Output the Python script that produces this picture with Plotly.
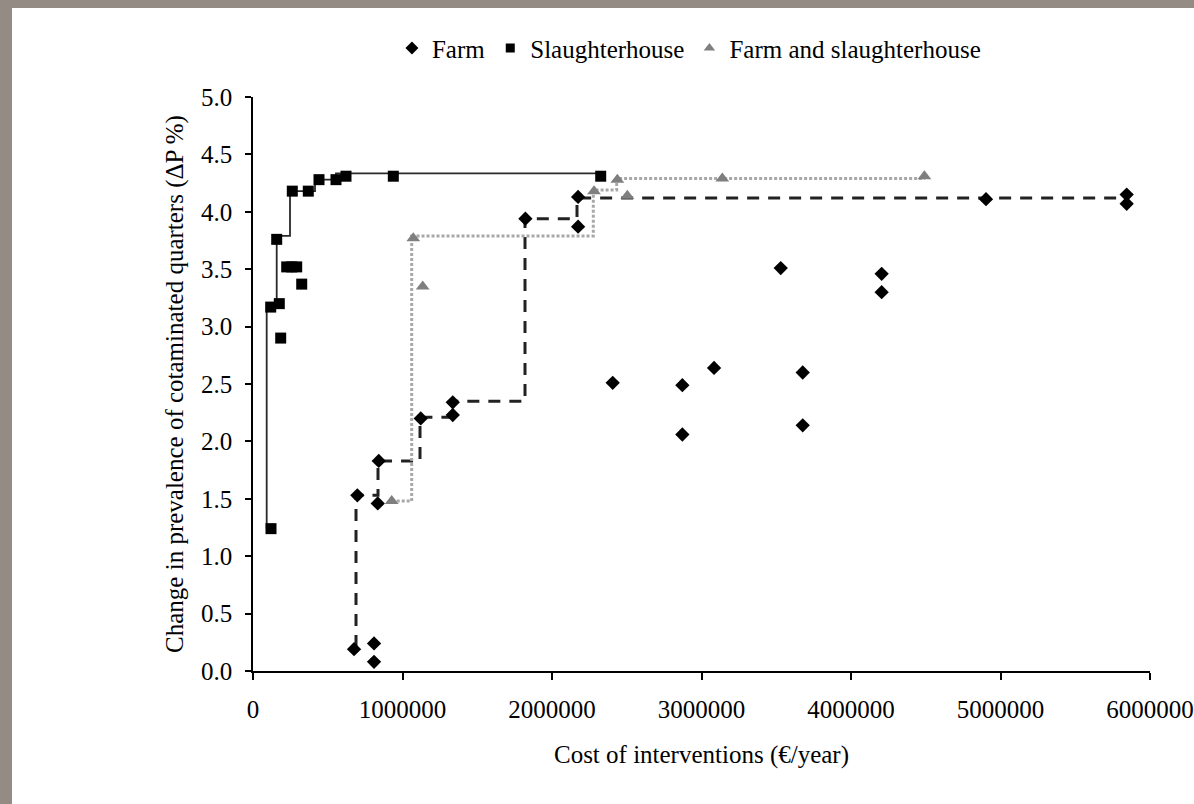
import plotly.graph_objects as go

# ---------------- data ----------------
farm_cost = [675800, 809600, 809600, 697900, 834400, 841100, 1122100, 1336200, 1336200,
             1822000, 2174600, 2174600, 2406000, 2872000, 2872000, 3084000, 3530000,
             3677000, 3677000, 4205000, 4205000, 4903000, 5844000, 5844000]
farm_effect = [0.19, 0.24, 0.08, 1.53, 1.46, 1.83, 2.20, 2.23, 2.34,
               3.94, 4.13, 3.87, 2.51, 2.49, 2.06, 2.64, 3.51,
               2.60, 2.14, 3.46, 3.30, 4.11, 4.15, 4.07]

slaughter_cost = [120400, 118400, 175900, 185300, 225400, 258900, 292300, 325800,
                  158500, 262900, 369900, 441500, 555200, 622100, 938500, 2325800]
slaughter_effect = [1.24, 3.17, 3.20, 2.90, 3.52, 3.52, 3.52, 3.37,
                    3.76, 4.18, 4.18, 4.28, 4.28, 4.31, 4.31, 4.31]

both_cost = [927800, 1072200, 1135100, 2281000, 2437000, 2504000, 3139000, 4491000]
both_effect = [1.48, 3.77, 3.35, 4.18, 4.28, 4.14, 4.29, 4.31]

# efficiency frontiers (corner points of the step lines)
farm_front_cost = [689000, 836100, 1117100, 1335800, 1819400, 2167200, 5846200]
farm_front_effect = [0.21, 1.53, 1.83, 2.21, 2.35, 3.94, 4.12]

slaughter_front_cost = [91600, 158500, 247500, 414700, 555000, 582000, 2325800]
slaughter_front_effect = [1.24, 3.17, 3.79, 4.18, 4.28, 4.335, 4.335]

both_front_cost = [927800, 1061500, 2276300, 2432800, 4495000]
both_front_effect = [1.48, 3.79, 4.19, 4.29, 4.29]

x_ticks = [0, 1000000, 2000000, 3000000, 4000000, 5000000, 6000000]
y_ticks = [0.0, 0.5, 1.0, 1.5, 2.0, 2.5, 3.0, 3.5, 4.0, 4.5, 5.0]

FONT = "Liberation Serif, Times New Roman, serif"
FS = 25
W, H = 1194, 804
L, R, T, B = 253, 44, 97, 133
PW, PH = W - L - R, H - T - B

fig = go.Figure()

# frontier lines
fig.add_trace(go.Scatter(x=slaughter_front_cost, y=slaughter_front_effect, mode="lines",
                         line=dict(color="#2a2a2a", width=1.8, shape="vh"),
                         showlegend=False, hoverinfo="skip"))
fig.add_trace(go.Scatter(x=farm_front_cost, y=farm_front_effect, mode="lines",
                         line=dict(color="#222222", width=3, dash="12px,9px", shape="vh"),
                         showlegend=False, hoverinfo="skip"))
fig.add_trace(go.Scatter(x=both_front_cost, y=both_front_effect, mode="lines",
                         line=dict(color="#a8a8a8", width=3, dash="3px,2px", shape="hv"),
                         showlegend=False, hoverinfo="skip"))

# markers
fig.add_trace(go.Scatter(x=farm_cost, y=farm_effect, mode="markers", name="Farm",
                         legendgroup="farm", showlegend=False,
                         marker=dict(symbol="diamond", size=11, color="black")))
fig.add_trace(go.Scatter(x=slaughter_cost, y=slaughter_effect, mode="markers", name="Slaughterhouse",
                         legendgroup="sl", showlegend=False,
                         marker=dict(symbol="square", size=11, color="black")))
fig.add_trace(go.Scatter(x=both_cost, y=both_effect, mode="markers", name="Farm and slaughterhouse",
                         legendgroup="both", showlegend=False,
                         marker=dict(symbol="triangle-up", size=12, color="#7f7f7f")))

# legend entries (small symbols, as in the reference)
fig.add_trace(go.Scatter(x=[None], y=[None], mode="markers", name="Farm", legendgroup="farm",
                         marker=dict(symbol="diamond", size=10, color="black")))
fig.add_trace(go.Scatter(x=[None], y=[None], mode="markers", name="Slaughterhouse", legendgroup="sl",
                         marker=dict(symbol="square", size=9, color="black")))
fig.add_trace(go.Scatter(x=[None], y=[None], mode="markers", name="Farm and slaughterhouse",
                         legendgroup="both", marker=dict(symbol="triangle-up", size=10, color="#7f7f7f")))

# grey frame on the top and left edges of the picture
def px_x(p):
    return (p - L) / PW

def px_y(p):
    return (H - B - p) / PH

fig.add_shape(type="rect", xref="paper", yref="paper",
              x0=px_x(0), x1=px_x(12), y0=px_y(H), y1=px_y(0),
              fillcolor="#958b85", line_width=0, layer="below")
fig.add_shape(type="rect", xref="paper", yref="paper",
              x0=px_x(0), x1=px_x(W), y0=px_y(8), y1=px_y(0),
              fillcolor="#958b85", line_width=0, layer="below")

fig.update_layout(
    width=W, height=H,
    margin=dict(l=L, r=R, t=T, b=B, pad=0, autoexpand=False),
    paper_bgcolor="white", plot_bgcolor="white",
    font=dict(family=FONT, size=FS, color="black"),
    legend=dict(orientation="h", x=0.486, xanchor="center", y=1.085, yanchor="middle",
                font=dict(family=FONT, size=FS, color="black"),
                itemwidth=30, tracegroupgap=0, bgcolor="rgba(0,0,0,0)"),
    xaxis=dict(range=[0, 6000000], tickvals=x_ticks, ticktext=[str(v) for v in x_ticks],
               showline=True, linecolor="black", linewidth=1.5, automargin=False,
               ticks="outside", ticklen=7, tickcolor="black", tickwidth=1.5,
               showgrid=False, zeroline=False, ticklabelstandoff=8,
               title=dict(text="Cost of interventions (€/year)", standoff=24,
                          font=dict(family=FONT, size=FS))),
    yaxis=dict(range=[0, 5], tickvals=y_ticks, ticktext=[f"{v:.1f}" for v in y_ticks],
               showline=True, linecolor="black", linewidth=1.5, automargin=False,
               ticks="outside", ticklen=6, tickcolor="black", tickwidth=1.5,
               showgrid=False, zeroline=False, ticklabelstandoff=8,
               title=dict(text="Change in prevalence of cotaminated quarters (ΔP %)", standoff=10,
                          font=dict(family=FONT, size=FS))),
)

fig.write_html("out.html", config={"displayModeBar": False},
               post_script="document.body.style.margin='0';")
